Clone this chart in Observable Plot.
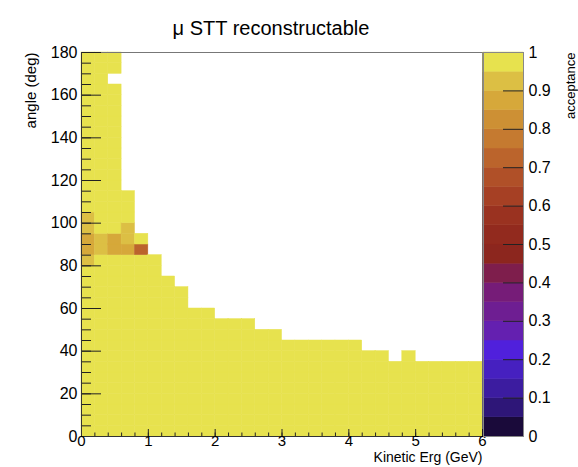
<!DOCTYPE html>
<html>
<head>
<meta charset="utf-8">
<script src="https://cdn.jsdelivr.net/npm/d3@7"></script>
<script src="https://cdn.jsdelivr.net/npm/@observablehq/plot@0.6"></script>
<style>
  html, body { margin: 0; padding: 0; background: white; }
  #wrap { position: relative; width: 578px; height: 467px; overflow: hidden; }
  #wrap svg { position: absolute; left: 0; top: 0; background: transparent; }
</style>
</head>
<body>
<div id="wrap"></div>
<script>
// ---- text ----
const titleText = "\u03bc STT reconstructable";
const xLabel = "Kinetic Erg (GeV)";
const yLabel = "angle (deg)";
const zLabel = "acceptance";

// ---- histogram data (0.2 GeV x 5 deg bins) ----
const binWidth = 0.2;
const angleStep = 5;
const energyBinLow = [0.0, 0.2, 0.4, 0.6, 0.8, 1.0, 1.2, 1.4, 1.6, 1.8,
                      2.0, 2.2, 2.4, 2.6, 2.8, 3.0, 3.2, 3.4, 3.6, 3.8,
                      4.0, 4.2, 4.4, 4.6, 4.8, 5.0, 5.2, 5.4, 5.6, 5.8];
// upper edge (deg) of the filled region in each energy bin
const angleTop = [180, 180, 180, 115, 95, 85, 75, 70, 60, 60,
                  55, 55, 55, 50, 50, 45, 45, 45, 45, 45,
                  45, 40, 40, 35, 40, 35, 35, 35, 35, 35];
// empty cells inside the filled region: [energy low, angle low]
const emptyCells = [[0.4, 165]];
// cells with acceptance below 1: [energy low, angle low, acceptance]
const partialCells = [
  [0.0, 80, 0.92], [0.0, 85, 0.86], [0.0, 90, 0.86], [0.0, 95, 0.91], [0.0, 100, 0.91],
  [0.2, 85, 0.92], [0.2, 90, 0.92],
  [0.4, 85, 0.86], [0.4, 90, 0.86],
  [0.6, 85, 0.86], [0.6, 90, 0.92], [0.6, 95, 0.92],
  [0.8, 85, 0.70]
];

// ---- ticks ----
const energyTicks = [0, 1, 2, 3, 4, 5, 6];
const angleTicks = [0, 20, 40, 60, 80, 100, 120, 140, 160, 180];
const accTicks = [0, 0.1, 0.2, 0.3, 0.4, 0.5, 0.6, 0.7, 0.8, 0.9, 1];

// ---- palette (colour bar, bottom to top, 0.05 steps) ----
const colorThresholds = [0.05, 0.1, 0.15, 0.2, 0.25, 0.3, 0.35, 0.4, 0.45, 0.5,
                         0.55, 0.6, 0.65, 0.7, 0.75, 0.8, 0.85, 0.9, 0.95];
const colorRange = ["#1a0a3a", "#2e1678", "#3c1ca0", "#4620c0", "#5020dc",
                    "#6420b0", "#6e1e92", "#761c78", "#7e1e4c", "#8c261e",
                    "#922a1e", "#9a3220", "#a64024", "#b05028", "#bb642c",
                    "#c57a30", "#cd9034", "#d6a83a", "#dcbf44", "#e7e24e"];

// ---- build cell table ----
const near = (a, b) => Math.abs(a - b) < 1e-9;
const cells = [];
energyBinLow.forEach((e, i) => {
  for (let a = 0; a < angleTop[i]; a += angleStep) {
    if (emptyCells.some(([ce, ca]) => near(ce, e) && ca === a)) continue;
    const p = partialCells.find(([ce, ca]) => near(ce, e) && ca === a);
    cells.push({x1: e, x2: e + binWidth, y1: a, y2: a + angleStep, value: p ? p[2] : 1});
  }
});
const colorBands = colorRange.map((c, i) => ({
  lo: i === 0 ? 0 : colorThresholds[i - 1],
  hi: i === colorRange.length - 1 ? 1 : colorThresholds[i],
}));
colorBands.forEach(b => b.mid = (b.lo + b.hi) / 2);

// ---- layout ----
const W = 578, H = 467, mL = 81, mR = 96, mT = 52, mB = 31;
const pxPerX = (W - mL - mR) / 6;
const pxPerY = (H - mT - mB) / 180;
const font = "'Liberation Sans', Arial, Helvetica, sans-serif";
const colorScale = {type: "threshold", domain: colorThresholds, range: colorRange};
const minorY = d3.range(0, 181, 5);
const minorX = d3.range(0, 6.0001, 0.2);

const main = Plot.plot({
  width: W, height: H,
  marginLeft: mL, marginRight: mR, marginTop: mT, marginBottom: mB,
  style: {fontFamily: font, fontSize: "16px", background: "transparent", color: "black"},
  x: {domain: [0, 6]},
  y: {domain: [0, 180]},
  color: colorScale,
  marks: [
    Plot.rect(cells, {x1: "x1", x2: "x2", y1: "y1", y2: "y2", fill: "value", stroke: "value", strokeWidth: 0.5}),
    Plot.frame({stroke: "#777"}),
    Plot.ruleY(minorY, {x1: 0, x2: 10 / pxPerX, stroke: "#222", strokeWidth: 1}),
    Plot.ruleY(angleTicks, {x1: 0, x2: 20 / pxPerX, stroke: "#222", strokeWidth: 1}),
    Plot.ruleX(minorX, {y1: 0, y2: 3.5 / pxPerY, stroke: "#222", strokeWidth: 1}),
    Plot.ruleX(energyTicks, {y1: 0, y2: 7 / pxPerY, stroke: "#222", strokeWidth: 1}),
    Plot.ruleX([0], {stroke: "#333"}),
    Plot.ruleY([0], {stroke: "#333"}),
    Plot.axisY({ticks: angleTicks, tickSize: 0, tickPadding: 4, label: null, tickFormat: d => String(d)}),
    Plot.axisX({ticks: energyTicks, tickSize: 0, tickPadding: 0, dy: -1.5, label: null, fontSize: 15, tickFormat: d => String(d)}),
    Plot.text([xLabel], {frameAnchor: "bottom-right", dy: 25, textAnchor: "end", fontSize: 14}),
    Plot.text([yLabel], {frameAnchor: "top-left", dx: -56, rotate: -90, textAnchor: "end", fontSize: 15}),
    Plot.text([titleText], {frameAnchor: "top", dx: -11, dy: -32, fontSize: 20})
  ]
});

const bar = Plot.plot({
  width: W, height: H,
  marginLeft: 483, marginRight: 55, marginTop: mT, marginBottom: mB,
  style: {fontFamily: font, fontSize: "16px", background: "transparent", color: "black"},
  x: {domain: [0, 1], axis: null},
  y: {domain: [0, 1], axis: null},
  color: colorScale,
  marks: [
    Plot.rect(colorBands, {x1: 0, x2: 1, y1: "lo", y2: "hi", fill: "mid", stroke: "mid", strokeWidth: 0.5}),
    Plot.ruleY(accTicks, {x1: 0.5, x2: 1, stroke: "#222", strokeWidth: 1}),
    Plot.frame({stroke: "#888"}),
    Plot.axisY({anchor: "right", ticks: accTicks, tickSize: 0, tickPadding: 5, label: null, tickFormat: d => String(d)}),
    Plot.text([zLabel], {frameAnchor: "top-right", dx: 42, rotate: -90, textAnchor: "end", fontSize: 13})
  ]
});

const wrap = document.getElementById("wrap");
wrap.appendChild(main);
wrap.appendChild(bar);
</script>
</body>
</html>
